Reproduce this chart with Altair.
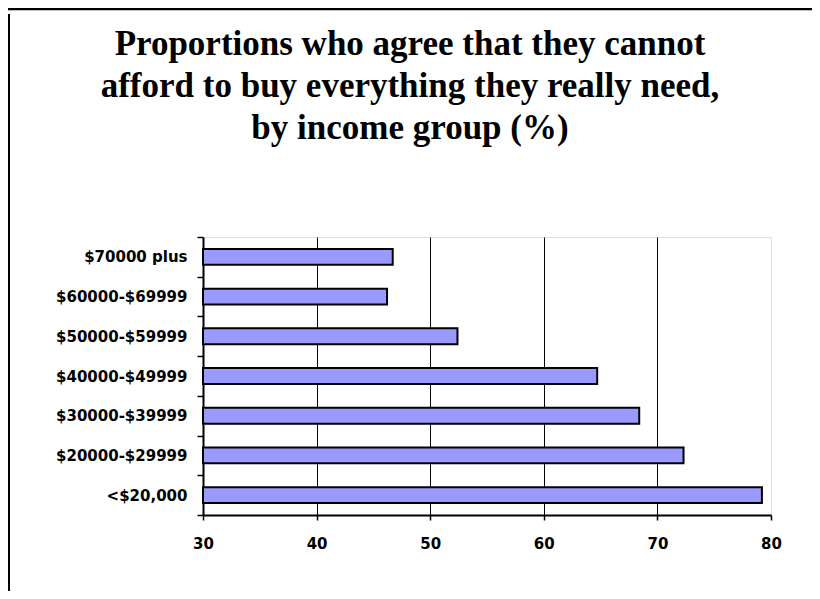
import altair as alt
import pandas as pd

groups = ["$70000 plus", "$60000-$69999", "$50000-$59999", "$40000-$49999",
          "$30000-$39999", "$20000-$29999", "<$20,000"]
values = [46.7, 46.2, 52.4, 64.7, 68.4, 72.3, 79.2]
x_ticks = [30, 40, 50, 60, 70, 80]
title_lines = ["Proportions who agree that they cannot",
               "afford to buy everything they really need,",
               "by income group (%)"]

df = pd.DataFrame({"group": groups, "value": values})

W, H = 568, 278
PL, PT = 195, 229

bars = alt.Chart(df).mark_bar(
    color="#9999FF", stroke="black", strokeWidth=2,
    height=alt.RelativeBandSize(band=0.4)
).encode(
    x=alt.X("value:Q",
            scale=alt.Scale(domain=[30, 80], nice=False, zero=False),
            axis=alt.Axis(values=x_ticks, title=None, grid=True,
                          gridColor="black", gridWidth=1,
                          gridOpacity=alt.condition("datum.value == 30 || datum.value == 80",
                                                    alt.value(0), alt.value(1)),
                          domainColor="black", domainWidth=2,
                          tickColor="black", tickWidth=1.5, tickSize=5,
                          labelFlush=False,
                          labelFont="DejaVu Sans", labelFontWeight="bold",
                          labelFontSize=15, labelColor="black",
                          labelPadding=16)),
    x2=alt.datum(30),
    y=alt.Y("group:N", sort=groups,
            scale=alt.Scale(paddingInner=0, paddingOuter=0),
            axis=alt.Axis(title=None, grid=False, tickBand="extent",
                          domainColor="black", domainWidth=2,
                          tickColor="black", tickWidth=1.5, tickSize=6,
                          labelFont="DejaVu Sans", labelFontWeight="bold",
                          labelFontSize=15, labelColor="black",
                          labelPadding=10)),
)

one = alt.Data(values=[{"a": 1}])
title = alt.Chart(one).mark_text(
    font="Liberation Serif", fontSize=35, fontWeight="bold", color="black",
    align="center", baseline="alphabetic", lineHeight=42
).encode(
    x=alt.value(207), y=alt.value(-182), text=alt.value(title_lines)
)
top_line = alt.Chart(one).mark_rule(color="black", strokeWidth=2.5).encode(
    x=alt.value(-PL), x2=alt.value(W + 41), y=alt.value(-PT + 1)
)
left_line = alt.Chart(one).mark_rule(color="black", strokeWidth=2).encode(
    x=alt.value(-PL + 1), y=alt.value(-PT + 6), y2=alt.value(H + 76)
)

chart = alt.layer(bars, title, top_line, left_line).properties(
    width=W, height=H,
    autosize=alt.AutoSizeParams(type="none"),
    padding={"left": PL, "top": PT, "right": 41, "bottom": 76},
).configure_view(stroke="#808080", strokeWidth=2).configure(background="white")

chart.save("out.html", embed_options={"renderer": "svg", "actions": False})
